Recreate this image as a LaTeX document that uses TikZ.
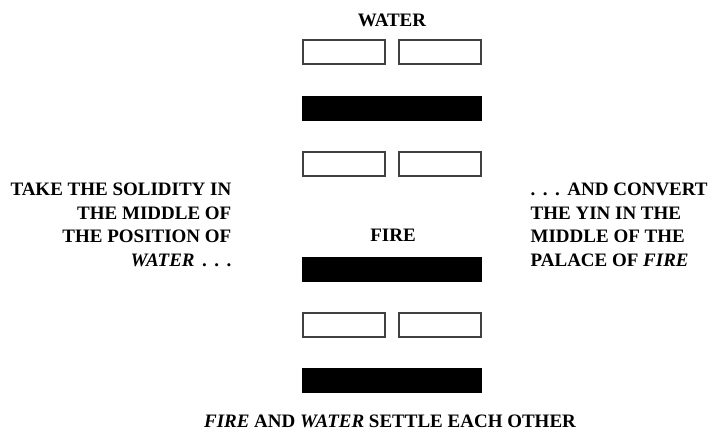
\documentclass[tikz,border=0pt]{standalone}
\usepackage{fontspec}
\setmainfont{Liberation Serif}
\newcommand{\dotgap}{\hspace{7.5pt}}
\begin{document}
\begin{tikzpicture}[x=1pt,y=-1pt,line width=1.3pt,
  lbl/.style={font=\bfseries\fontsize{19}{23.5}\selectfont,inner sep=0pt}]
\newcommand{\solidbar}[1]{\fill[black] (302,#1) rectangle ++(180,25);}
\newcommand{\brokenbar}[1]{\draw[black!75,fill=white] (303,#1) rectangle ++(82,24) (399,#1) rectangle ++(82,24);}

\useasboundingbox (0,0) rectangle (720,438);

% upper trigram: water
\brokenbar{40} \solidbar{96} \brokenbar{152}
% lower trigram: fire
\solidbar{257} \brokenbar{313} \solidbar{368}

\node[lbl,anchor=north] (water) at (392,13) {WATER};
\node[lbl,anchor=north] (fire)  at (393,228.5) {FIRE};

\node[lbl,anchor=north east,align=right] (take) at (232,182.5)
  {TAKE THE SOLIDITY IN\\THE MIDDLE OF\\THE POSITION OF\\\textit{WATER}\dotgap.\dotgap.\dotgap.};
\node[lbl,anchor=north west,align=left] (convert) at (530,182.5)
  {.\dotgap.\dotgap.\dotgap AND CONVERT\\THE YIN IN THE\\MIDDLE OF THE\\PALACE OF \textit{FIRE}};

\node[lbl,anchor=north] (settle) at (390,414)
  {\textit{FIRE} AND \textit{WATER} SETTLE EACH OTHER};
\end{tikzpicture}
\end{document}
